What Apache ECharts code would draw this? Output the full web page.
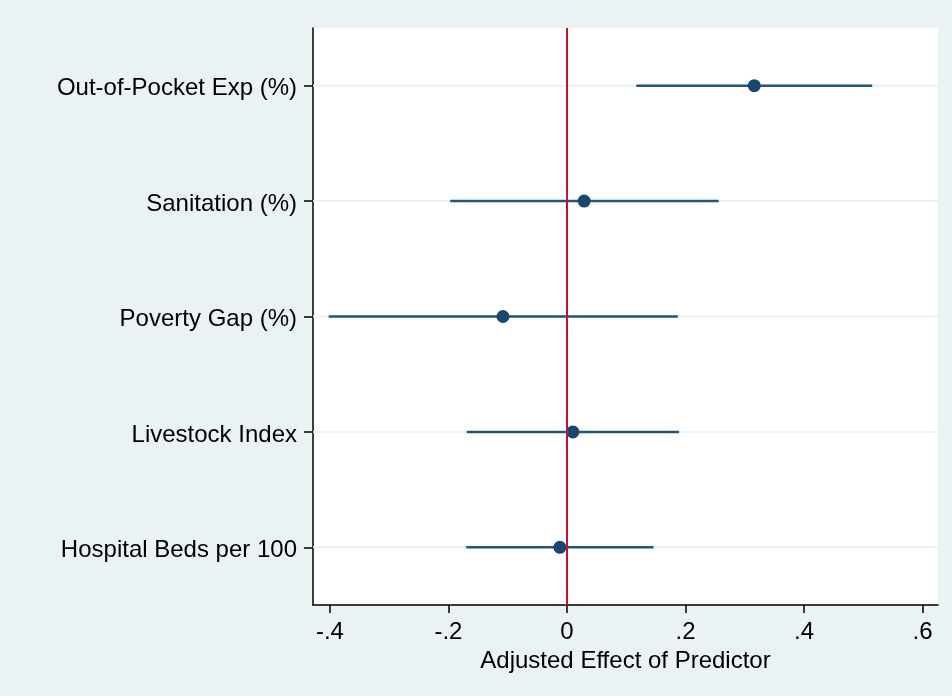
<!DOCTYPE html>
<html>
<head>
<meta charset="utf-8">
<script src="https://cdn.jsdelivr.net/npm/echarts@6/dist/echarts.min.js"></script>
<style>
html,body{margin:0;padding:0;background:#EAF2F3;}
#chart{width:952px;height:696px;}
</style>
</head>
<body>
<div id="chart"></div>
<script>
const categories = ['Out-of-Pocket Exp (%)', 'Sanitation (%)', 'Poverty Gap (%)', 'Livestock Index', 'Hospital Beds per 100'];
const estimates = [0.316, 0.029, -0.108, 0.010, -0.012];
const ciLow = [0.117, -0.197, -0.402, -0.169, -0.170];
const ciHigh = [0.515, 0.256, 0.187, 0.189, 0.146];
const tickValues = [-0.4, -0.2, 0, 0.2, 0.4, 0.6];
const tickLabels = ['-.4', '-.2', '0', '.2', '.4', '.6'];
const xTitle = 'Adjusted Effect of Predictor';

const FONT = 'Liberation Sans, Arial, Helvetica, sans-serif';
const navy = '#1A476F';

const ciData = categories.map((c, i) => [ciLow[i], ciHigh[i], i]);
const pointData = categories.map((c, i) => [estimates[i], c]);

const chart = echarts.init(document.getElementById('chart'));
chart.setOption({
  backgroundColor: '#EAF2F3',
  animation: false,
  grid: {
    left: 313, right: 14, top: 28, bottom: 91,
    show: true, backgroundColor: '#ffffff', borderWidth: 0
  },
  xAxis: {
    type: 'value',
    min: -0.4285,
    max: 0.626,
    name: xTitle,
    nameLocation: 'middle',
    nameGap: 40,
    nameTextStyle: { fontFamily: FONT, fontSize: 24, color: '#000' },
    axisLine: { show: true, onZero: false, lineStyle: { color: '#000', width: 1.5 } },
    axisTick: { show: true, length: 8, lineStyle: { color: '#000', width: 1.5 }, customValues: tickValues },
    axisLabel: {
      fontFamily: FONT, fontSize: 24, color: '#000', margin: 15,
      customValues: tickValues,
      formatter: function (v) {
        for (let i = 0; i < tickValues.length; i++) {
          if (Math.abs(v - tickValues[i]) < 1e-6) return tickLabels[i];
        }
        return '';
      }
    },
    splitLine: { show: false }
  },
  yAxis: {
    type: 'category',
    data: categories,
    inverse: true,
    boundaryGap: true,
    axisLine: { show: true, onZero: false, lineStyle: { color: '#000', width: 1.5 } },
    axisTick: { show: true, length: 9, alignWithLabel: true, lineStyle: { color: '#000', width: 1.5 } },
    axisLabel: {
      fontFamily: FONT, fontSize: 24, color: '#000', margin: 16,
      formatter: function (v) { return '{a|' + v + '}'; },
      rich: { a: { fontFamily: FONT, fontSize: 24, color: '#000', padding: [6, 0, 0, 0] } }
    },
    splitLine: { show: false }
  },
  series: [
    {
      type: 'custom',
      z: 2,
      data: ciData,
      encode: { x: [0, 1], y: 2 },
      renderItem: function (params, api) {
        const cs = params.coordSys;
        const lo = api.coord([api.value(0), api.value(2)]);
        const hi = api.coord([api.value(1), api.value(2)]);
        return {
          type: 'group',
          children: [
            {
              type: 'line',
              shape: { x1: cs.x, y1: lo[1], x2: cs.x + cs.width, y2: lo[1] },
              style: { stroke: '#EAF2F3', lineWidth: 2 },
              z2: 0
            },
            {
              type: 'line',
              shape: { x1: lo[0], y1: lo[1], x2: hi[0], y2: hi[1] },
              style: { stroke: '#24537C', lineWidth: 2.5 },
              z2: 1
            }
          ]
        };
      }
    },
    {
      type: 'scatter',
      z: 3,
      data: [],
      markLine: {
        silent: true,
        symbol: 'none',
        label: { show: false },
        lineStyle: { color: '#C8102E', width: 2, type: 'solid' },
        data: [{ xAxis: 0 }]
      }
    },
    {
      type: 'scatter',
      z: 4,
      data: pointData,
      symbol: 'circle',
      symbolSize: 13,
      itemStyle: { color: navy, opacity: 1 }
    }
  ]
});
</script>
</body>
</html>
